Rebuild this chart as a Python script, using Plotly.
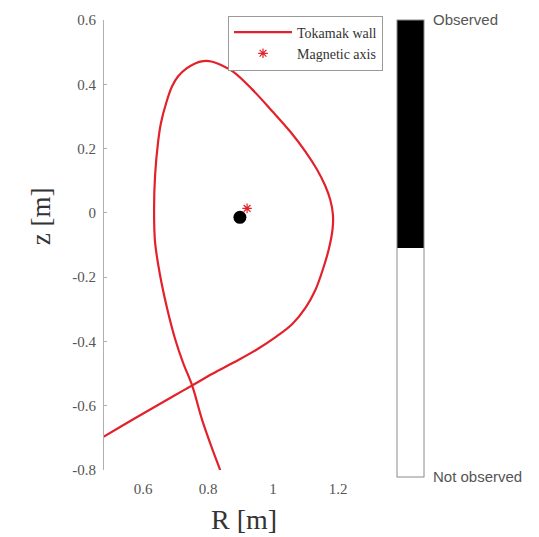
import plotly.graph_objects as go

# Tokamak first-wall contour (R, z in metres), traced from the lower-left leg,
# up the outboard side, over the top and down the inboard leg.
wall_R = [0.470, 0.545, 0.622, 0.690, 0.751, 0.815, 0.880, 0.950, 1.010, 1.060,
          1.100, 1.130, 1.155, 1.172, 1.183, 1.184, 1.176, 1.160, 1.135, 1.100,
          1.055, 0.996, 0.935, 0.879, 0.840, 0.810, 0.785, 0.760, 0.735, 0.708,
          0.689, 0.671, 0.655, 0.646, 0.637, 0.634, 0.637, 0.652, 0.674, 0.698,
          0.723, 0.751, 0.782, 0.812, 0.837, 0.846]
wall_z = [-0.702, -0.657, -0.612, -0.572, -0.537, -0.500, -0.465, -0.425, -0.385, -0.345,
          -0.295, -0.240, -0.170, -0.110, -0.050, -0.005, 0.040, 0.085, 0.135, 0.190,
          0.250, 0.318, 0.385, 0.438, 0.460, 0.471, 0.472, 0.465, 0.450, 0.425,
          0.393, 0.341, 0.279, 0.218, 0.116, 0.011, -0.091, -0.192, -0.297, -0.390,
          -0.466, -0.537, -0.645, -0.732, -0.800, -0.830]

# Magnetic axis and the observed point
axis_R = [0.920]
axis_z = [0.014]
obs_R = [0.898]
obs_z = [-0.014]

# Observation state scale
state_values = [0, 1]
state_labels = ["Not observed", "Observed"]

x_range = [0.48, 1.338]
y_range = [-0.8, 0.6]
x_ticks = [0.6, 0.8, 1.0, 1.2]
x_ticktext = ["0.6", "0.8", "1", "1.2"]
y_ticks = [-0.8, -0.6, -0.4, -0.2, 0, 0.2, 0.4, 0.6]
y_ticktext = ["-0.8", "-0.6", "-0.4", "-0.2", "0", "0.2", "0.4", "0.6"]

serif = "Liberation Serif, Times New Roman, serif"
sans = "Liberation Sans, Arial, sans-serif"
wall_color = "#e3212b"

fig = go.Figure()

fig.add_trace(go.Scatter(
    x=wall_R, y=wall_z, mode="lines", name="Tokamak wall",
    line=dict(color=wall_color, width=2.2, shape="spline", smoothing=1.0),
))
fig.add_trace(go.Scatter(
    x=obs_R, y=obs_z, mode="markers", showlegend=False,
    marker=dict(color="black", size=13),
))
fig.add_trace(go.Scatter(
    x=axis_R, y=axis_z, mode="markers", name="Magnetic axis",
    marker=dict(symbol="asterisk-open", size=8, color=wall_color,
                line=dict(color=wall_color, width=1.2)),
))

# Two-state colour bar (black = observed, white = not observed)
fig.add_trace(go.Scatter(
    x=[None, None], y=[None, None], mode="markers", showlegend=False,
    marker=dict(
        color=state_values, cmin=0, cmax=1, showscale=True,
        colorscale=[[0, "white"], [0.5, "white"], [0.5, "black"], [1, "black"]],
        colorbar=dict(
            x=1.05, xanchor="left", xpad=0,
            y=1.0, yanchor="top", ypad=0,
            thickness=27, thicknessmode="pixels",
            len=457, lenmode="pixels",
            outlinewidth=1, outlinecolor="#8a8a8a",
            tickvals=state_values, ticktext=state_labels,
            ticks="outside", ticklen=6, tickcolor="rgba(0,0,0,0)",
            tickfont=dict(family=sans, size=15, color="#555555"),
        ),
    ),
))

fig.update_layout(
    width=539, height=537,
    margin=dict(l=104, r=156, t=16, b=67),
    paper_bgcolor="white", plot_bgcolor="white",
    showlegend=True,
    legend=dict(
        x=1.0, xanchor="right", y=1.01, yanchor="top",
        bgcolor="white", bordercolor="#9a9a9a", borderwidth=1,
        font=dict(family=serif, size=14, color="#333333"),
        tracegroupgap=0, itemwidth=58,
    ),
)

fig.update_xaxes(
    range=x_range, tickvals=x_ticks, ticktext=x_ticktext,
    showgrid=False, zeroline=False, showline=False, ticks="",
    ticklabelstandoff=8,
    tickfont=dict(family=serif, size=15, color="#555555"),
)
fig.update_yaxes(
    range=y_range, tickvals=y_ticks, ticktext=y_ticktext,
    showgrid=False, zeroline=False,
    showline=True, linecolor="#b0b0b0", linewidth=1,
    ticks="inside", ticklen=3, tickcolor="#b0b0b0",
    ticklabelstandoff=4,
    tickfont=dict(family=serif, size=15, color="#555555"),
)

# Axis titles
fig.add_annotation(
    text="R [m]", xref="paper", yref="paper", x=0.5, y=-0.11,
    xanchor="center", yanchor="middle", showarrow=False,
    font=dict(family=serif, size=28, color="#333333"),
)
fig.add_annotation(
    text="z [m]", xref="paper", yref="paper", x=-0.228, y=0.565,
    xanchor="center", yanchor="middle", showarrow=False, textangle=-90,
    font=dict(family=serif, size=27, color="#333333"),
)

fig.write_html("out.html")
